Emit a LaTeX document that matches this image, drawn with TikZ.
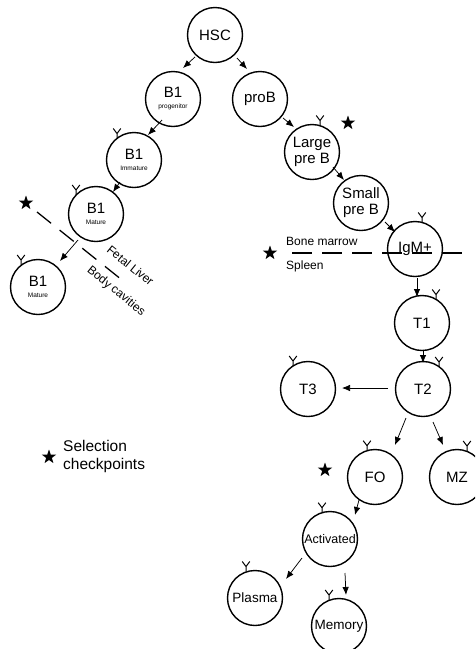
\documentclass[tikz,border=0pt]{standalone}
\usepackage{fontspec}
\setmainfont{Liberation Sans}
\usetikzlibrary{arrows.meta,shapes.geometric}
\tikzset{
  cell/.style={circle,draw,line width=1.4pt,minimum size=55pt,inner sep=0pt,
    font=\fontsize{15}{16}\selectfont,align=center},
  arr/.style={line width=0.75pt,-{Latex[length=8pt,width=6.5pt]}},
  chk/.style={star,star points=5,star point ratio=2.5,fill=black,draw=none,inner sep=0pt,minimum size=15pt},
  rcpt/.pic={\draw[line width=1pt] (0,0) -- (0,-5) -- (-3.8,-10) (0,-5) -- (3.8,-10);},
  borderline/.style={line width=1.3pt,dash pattern=on 20pt off 10pt},
  fetalline/.style={line width=1.3pt,dash pattern=on 18pt off 11pt},
  lbl/.style={font=\fontsize{12}{12}\selectfont,inner sep=0pt},
}
\newcommand{\smalltxt}[1]{{\fontsize{6.5}{7}\selectfont #1}}
\begin{document}
\begin{tikzpicture}[x=1pt,y=-1pt]
\useasboundingbox (0,0) rectangle (475,649);
\clip (0,0) rectangle (475,649);
% cells
\node[cell] (hsc) at (215,35) {HSC};
\node[cell] (prog) at (173,99) {B1\\[-5pt]\smalltxt{progenitor}};
\node[cell] (imm) at (134,160) {B1\\[-5pt]\smalltxt{Immature}};
\node[cell] (mat) at (96,214) {B1\\[-5pt]\smalltxt{Mature}};
\node[cell] (body) at (38,287) {B1\\[-5pt]\smalltxt{Mature}};
\node[cell] (prob) at (260,99) {proB};
\node[cell] (large) at (312,152) {Large\\pre B};
\node[cell] (small) at (361,203) {Small\\pre B};
\node[cell] (igm) at (415,249) {IgM+};
\node[cell] (t1) at (422,323) {T1};
\node[cell] (t2) at (423,389) {T2};
\node[cell] (t3) at (308,389) {T3};
\node[cell] (fo) at (375,477) {FO};
\node[cell] (mz) at (457,477) {MZ};
\node[cell,font=\fontsize{12.5}{13}\selectfont] (act) at (330,539) {Activated};
\node[cell,font=\fontsize{13.5}{14}\selectfont] (plasma) at (255,598) {Plasma};
\node[cell,font=\fontsize{13.5}{14}\selectfont] (memory) at (339,626) {Memory};
% receptors
\pic at ([shift={(-17,-21.5)}]imm.center) {rcpt};
\pic at ([shift={(-20,-19)}]mat.center) {rcpt};
\pic at ([shift={(-17,-22)}]body.center) {rcpt};
\pic at ([shift={(8,-26.5)}]large.center) {rcpt};
\pic at ([shift={(7,-26.5)}]igm.center) {rcpt};
\pic at ([shift={(14,-23.5)}]t1.center) {rcpt};
\pic at ([shift={(16,-22)}]t2.center) {rcpt};
\pic at ([shift={(-15,-23)}]t3.center) {rcpt};
\pic at ([shift={(-8,-26.3)}]fo.center) {rcpt};
\pic at ([shift={(10,-26)}]mz.center) {rcpt};
\pic at ([shift={(-8,-26.3)}]act.center) {rcpt};
\pic at ([shift={(-9,-26.5)}]plasma.center) {rcpt};
\pic at ([shift={(-10,-26)}]memory.center) {rcpt};
% connectors
\draw[arr] ([shift={(-20,22)}]hsc.center) -- ([shift={(10,-31)}]prog.center);
\draw[arr] ([shift={(22,23)}]hsc.center) -- ([shift={(-13,-30)}]prob.center);
\draw[arr] ([shift={(-11,21)}]prog.center) -- ([shift={(14,-25)}]imm.center);
\draw[arr] ([shift={(-14,22)}]imm.center) -- ([shift={(17,-22)}]mat.center);
\draw[arr] ([shift={(-18,26)}]mat.center) -- ([shift={(22,-26)}]body.center);
\draw[arr] ([shift={(23,19)}]prob.center) -- ([shift={(-18,-25)}]large.center);
\draw[arr] ([shift={(21,15)}]large.center) -- ([shift={(-17,-23)}]small.center);
\draw[arr] ([shift={(24,19)}]small.center) -- ([shift={(-20,-17)}]igm.center);
\draw[arr] ([shift={(2,29)}]igm.center) -- ([shift={(-5,-26)}]t1.center);
\draw[arr] ([shift={(1,27)}]t1.center) -- ([shift={(0,-26)}]t2.center);
\draw[arr] ([shift={(-35,-1)}]t2.center) -- ([shift={(34,-1)}]t3.center);
\draw[arr] ([shift={(-17,29)}]t2.center) -- ([shift={(20,-32)}]fo.center);
\draw[arr] ([shift={(10,33)}]t2.center) -- ([shift={(-14,-32)}]mz.center);
\draw[arr] ([shift={(-16,23)}]fo.center) -- ([shift={(25,-24)}]act.center);
\draw[arr] ([shift={(-28,19)}]act.center) -- ([shift={(31,-19)}]plasma.center);
\draw[arr] ([shift={(15,34)}]act.center) -- ([shift={(7,-31)}]memory.center);
% boundaries
\draw[fetalline] (37,212) -- (122,280);
\node[lbl,rotate=-39] (fetal) at (130.5,265.5) {Fetal Liver};
\node[lbl,rotate=-39] (cav) at (116,291.5) {Body cavities};
\draw[borderline] (292,253) -- (465,253);
\node[lbl,anchor=base west] (bm) at (286,245) {Bone marrow};
\node[lbl,anchor=base west] (spl) at (286,269) {Spleen};
% checkpoints
\node[chk] (s1) at (26,203) {};
\node[chk] (s2) at (348,123) {};
\node[chk] (s3) at (270,253) {};
\node[chk] (s4) at (325,470) {};
\node[chk] (s5) at (49,457) {};
\node[anchor=west,align=left,inner sep=0pt,font=\fontsize{15.5}{18}\selectfont] (legend) at (63,456) {Selection\\checkpoints};
\end{tikzpicture}
\end{document}
